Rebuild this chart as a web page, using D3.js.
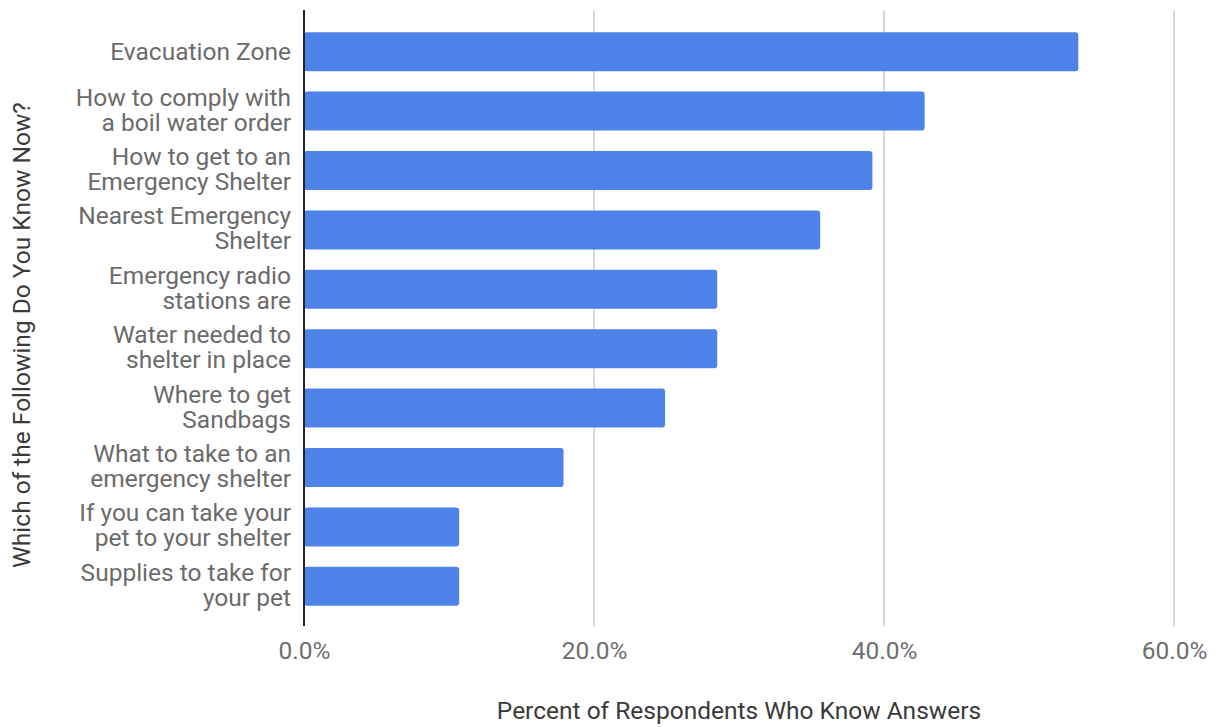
<!DOCTYPE html>
<html>
<head>
<meta charset="utf-8">
<script src="https://cdn.jsdelivr.net/npm/d3@7"></script>
<style>
  html, body { margin: 0; padding: 0; background: #fff; }
  svg { display: block; font-family: Roboto, "Noto Sans", sans-serif; }
</style>
</head>
<body>
<svg id="chart" width="1217" height="727"></svg>
<script>
// Survey items (two-line labels) and the share of respondents who know each one
const categories = [
  ["Evacuation Zone"],
  ["How to comply with", "a boil water order"],
  ["How to get to an", "Emergency Shelter"],
  ["Nearest Emergency", "Shelter"],
  ["Emergency radio", "stations are"],
  ["Water needed to", "shelter in place"],
  ["Where to get", "Sandbags"],
  ["What to take to an", "emergency shelter"],
  ["If you can take your", "pet to your shelter"],
  ["Supplies to take for", "your pet"]
];
const values = [0.534, 0.428, 0.392, 0.356, 0.285, 0.285, 0.249, 0.179, 0.107, 0.107];
const xTicks = [0, 0.2, 0.4, 0.6];
const xTitle = "Percent of Respondents Who Know Answers";
const yTitle = "Which of the Following Do You Know Now?";

const svg = d3.select("#chart");
const plot = { left: 304, right: 1174, top: 10, bottom: 626 };
const fontSize = 24.5;

const x = d3.scaleLinear().domain([0, 0.6]).range([plot.left, plot.right]);
const keys = categories.map((c, i) => i);
const y = d3.scaleBand().domain(keys).range([22, 616]).paddingInner(0.343).paddingOuter(0.1715);

// vertical gridlines
svg.append("g").selectAll("line").data(xTicks.filter(t => t > 0)).join("line")
  .attr("x1", d => x(d)).attr("x2", d => x(d))
  .attr("y1", plot.top).attr("y2", plot.bottom)
  .attr("stroke", "#cccccc").attr("stroke-width", 1.5);

// bars
svg.append("g").selectAll("rect").data(values).join("rect")
  .attr("x", x(0))
  .attr("y", (d, i) => y(i))
  .attr("width", d => x(d) - x(0))
  .attr("height", y.bandwidth())
  .attr("rx", 3)
  .attr("fill", "#4d83e8");

// baseline axis
svg.append("line")
  .attr("x1", x(0)).attr("x2", x(0))
  .attr("y1", plot.top).attr("y2", plot.bottom)
  .attr("stroke", "#222").attr("stroke-width", 2);

// x tick labels
const xAxis = d3.axisBottom(x).tickValues(xTicks).tickFormat(d3.format(".1%")).tickSize(0).tickPadding(16);
const gx = svg.append("g").attr("transform", `translate(0,${plot.bottom})`).call(xAxis);
gx.select(".domain").remove();
gx.selectAll("text").attr("font-size", fontSize).attr("fill", "#6e6e6e").attr("font-family", "Roboto, sans-serif");

// category labels, right aligned against the axis
const lineH = 25;
const labels = svg.append("g").selectAll("text").data(categories).join("text")
  .attr("text-anchor", "end")
  .attr("font-size", fontSize)
  .attr("fill", "#6b6b6b")
  .attr("x", 291)
  .attr("y", (d, i) => y(i) + y.bandwidth() / 2 - (d.length - 1) * lineH / 2 + (d.length === 1 ? 8 : 7));
labels.selectAll("tspan").data(d => d).join("tspan")
  .attr("x", 291)
  .attr("dy", (d, j) => j === 0 ? 0 : lineH)
  .text(d => d);

// axis titles
svg.append("text")
  .attr("x", 739).attr("y", 719)
  .attr("text-anchor", "middle")
  .attr("font-size", fontSize).attr("fill", "#3a3a3a")
  .text(xTitle);

svg.append("text")
  .attr("transform", "translate(30,335) rotate(-90)")
  .attr("text-anchor", "middle")
  .attr("font-size", fontSize).attr("fill", "#3a3a3a")
  .text(yTitle);
</script>
</body>
</html>
